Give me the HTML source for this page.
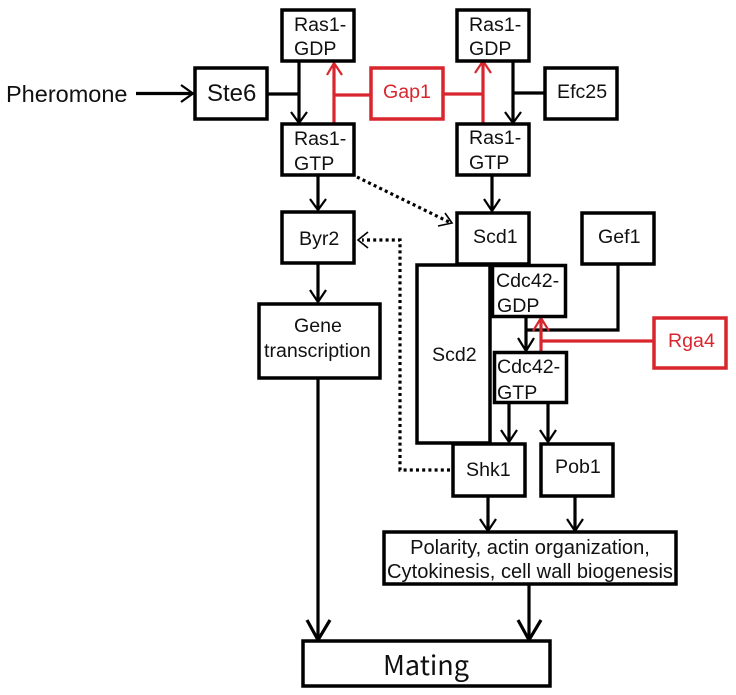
<!DOCTYPE html>
<html><head><meta charset="utf-8"><style>
html,body{margin:0;padding:0;background:#fff;width:736px;height:695px;overflow:hidden}
svg{display:block}
text{font-family:"Liberation Sans",sans-serif;fill:#111;text-anchor:start}
.b{fill:#fff;stroke:#000;stroke-width:3.5}
.r{fill:#fff;stroke:#d9262e;stroke-width:3.5}
.l{fill:none;stroke:#000;stroke-width:3.2}
.h{fill:none;stroke:#000;stroke-width:2.2}
.d{fill:none;stroke:#000;stroke-width:3.2;stroke-dasharray:3 3.2}
.rl{fill:none;stroke:#d9262e;stroke-width:3.2}
.rh{fill:none;stroke:#d9262e;stroke-width:2.2}
.t{font-size:19.6px}
</style></head><body>
<svg width="736" height="695" viewBox="0 0 736 695" xmlns="http://www.w3.org/2000/svg">
<!-- connectors -->
<path class="l" d="M136 93.500H191M268 94H300M299 61V122M318 175V209M513 61V122M544 93H514M492 175V210M318 263V301M318 378V639M526 317V350M618 263V330H526M509 403V441M548 403V441M488 496V530M575 496V530M529 584V639"/>
<path class="h" d="M181 85L193 93.500L181 102M291 112L299 123L307 112M310 199L318 210L326 199M505 112L513 123L521 112M484 199L492 211L500 199M310 290L318 302L326 290M518 338L526 351L534 338M501 430L509 442L517 430M540 430L548 442L556 430M480 519L488 531L496 519M567 519L575 531L583 519"/>
<path class="l" d="M307 620L318 640L330 620M518 620L529 640L541 620" stroke-width="3"/>
<path class="d" d="M357 177L449 222M450 470H400V240H362"/>
<path class="h" d="M445 213L452 223L438 226M368 232L358 240L368 248" style="stroke-width:1.6"/>
<path class="rl" d="M334 124V65M334 95H370M444 94H483M483 124V63M541 352V320M541 341H653"/>
<path class="rh" d="M327 75L334 63L342 75M475 73L483 61L491 73M533 331L541 318L549 331"/>
<!-- boxes -->
<rect class="b" x="195" y="68" width="72" height="51"/>
<rect class="b" x="282" y="10" width="72" height="51"/>
<rect class="b" x="282" y="124" width="72" height="51"/>
<rect class="b" x="282" y="212" width="72" height="51"/>
<rect class="b" x="457" y="10" width="72" height="51"/>
<rect class="b" x="457" y="124" width="72" height="51"/>
<rect class="b" x="545" y="68" width="72" height="51"/>
<rect class="b" x="457" y="213" width="72" height="51"/>
<rect class="b" x="582" y="213" width="72" height="51"/>
<rect class="b" x="259" y="304" width="121" height="74"/>
<rect class="b" x="417" y="265" width="73" height="178"/>
<rect class="b" x="492.500" y="265.500" width="73" height="51"/>
<rect class="b" x="494.500" y="352.500" width="72" height="50"/>
<rect class="b" x="453" y="444" width="72" height="52"/>
<rect class="b" x="541" y="444" width="72" height="52"/>
<rect class="b" x="384" y="532" width="292" height="52"/>
<rect class="b" x="303" y="641" width="247" height="45"/>
<rect class="r" x="371" y="68" width="72" height="51"/>
<rect class="r" x="654" y="318" width="72" height="50"/>
<!-- labels -->
<text x="6" y="102" font-size="23.500">Pheromone</text>
<text x="207" y="101" font-size="24">Ste6</text>
<text class="t" x="294" y="31">Ras1-</text><text class="t" x="294" y="55">GDP</text>
<text class="t" x="294" y="145">Ras1-</text><text class="t" x="294" y="170">GTP</text>
<text class="t" x="469" y="31">Ras1-</text><text class="t" x="469" y="55">GDP</text>
<text class="t" x="469" y="144">Ras1-</text><text class="t" x="469" y="169">GTP</text>
<text class="t" x="383" y="98" style="fill:#d9262e">Gap1</text>
<text class="t" x="557" y="98">Efc25</text>
<text class="t" x="299" y="245">Byr2</text>
<text class="t" x="473" y="243">Scd1</text>
<text class="t" x="598" y="243">Gef1</text>
<text class="t" x="294" y="332">Gene</text>
<text class="t" x="264" y="357">transcription</text>
<text class="t" x="432" y="361">Scd2</text>
<text class="t" x="496" y="287">Cdc42-</text><text class="t" x="497" y="312">GDP</text>
<text class="t" x="497" y="373">Cdc42-</text><text class="t" x="497" y="399">GTP</text>
<text class="t" x="668" y="347" style="fill:#d9262e">Rga4</text>
<text class="t" x="466" y="476">Shk1</text>
<text class="t" x="555" y="473">Pob1</text>
<text x="530" y="554" font-size="20.100" style="text-anchor:middle">Polarity, actin organization,</text>
<text x="530" y="578" font-size="20.100" style="text-anchor:middle">Cytokinesis, cell wall biogenesis</text>
<text x="426" y="675" font-size="27" style="font-family:'Noto Sans CJK SC',sans-serif;text-anchor:middle">Mating</text>
</svg>
</body></html>
